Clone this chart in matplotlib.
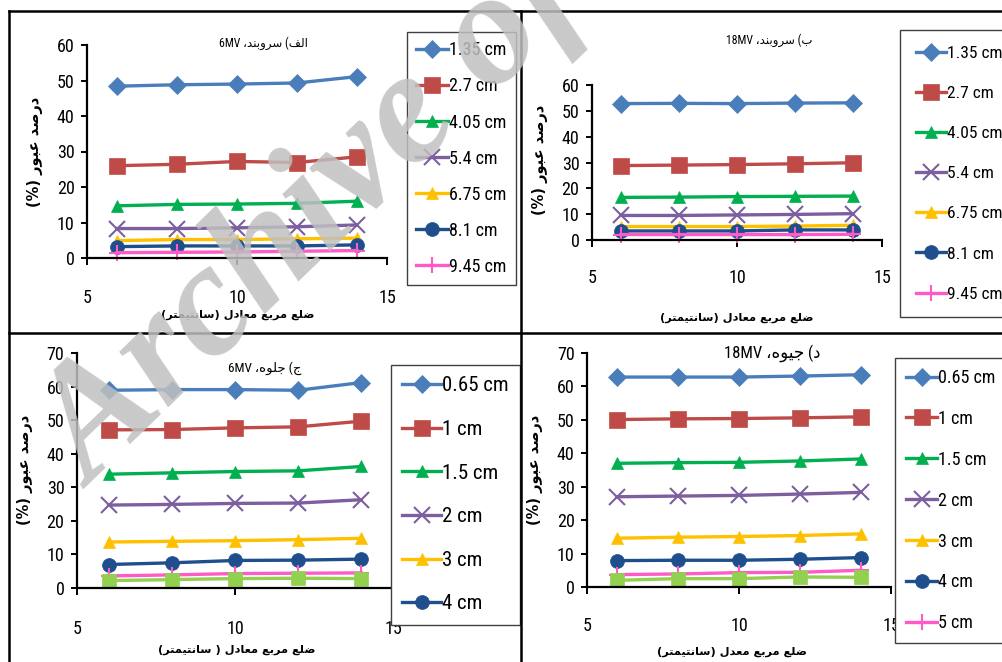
import matplotlib
matplotlib.use('Agg')
import matplotlib.pyplot as plt
from matplotlib.lines import Line2D

W, H = 1003, 662

# field size (equivalent square side, cm)
field = [6, 8, 10, 12, 14]

# panel a - 6MV
a_labels = ['1.35 cm', '2.7 cm', '4.05 cm', '5.4 cm', '6.75 cm', '8.1 cm', '9.45 cm']
a_135 = [48.4, 48.8, 49.0, 49.3, 51.1]
a_27 = [26.0, 26.4, 27.2, 26.9, 28.5]
a_405 = [14.7, 15.1, 15.2, 15.4, 16.0]
a_54 = [8.3, 8.3, 8.5, 8.8, 9.3]
a_675 = [4.9, 5.2, 5.2, 5.4, 5.6]
a_81 = [3.2, 3.4, 3.4, 3.4, 3.7]
a_945 = [1.5, 1.6, 1.7, 1.9, 2.1]

# panel b - 18MV
b_labels = a_labels
b_135 = [52.8, 52.9, 52.8, 53.0, 53.1]
b_27 = [28.8, 29.0, 29.2, 29.5, 29.9]
b_405 = [16.5, 16.6, 16.8, 16.9, 17.0]
b_54 = [9.5, 9.5, 9.7, 9.9, 10.2]
b_675 = [5.2, 5.2, 5.2, 5.4, 5.7]
b_81 = [3.5, 3.5, 3.5, 3.9, 3.9]
b_945 = [2.1, 2.1, 2.1, 2.1, 2.2]

# panel c - 6MV
c_labels = ['0.65 cm', '1 cm', '1.5 cm', '2 cm', '3 cm', '4 cm', '5 cm', '6 cm']
c_065 = [58.9, 59.1, 59.1, 58.9, 61.2]
c_1 = [47.1, 47.2, 47.7, 48.0, 49.7]
c_15 = [33.9, 34.3, 34.7, 34.9, 36.2]
c_2 = [24.7, 24.9, 25.2, 25.3, 26.3]
c_3 = [13.7, 13.9, 14.1, 14.4, 14.8]
c_4 = [7.0, 7.5, 8.2, 8.3, 8.6]
c_5 = [3.6, 3.9, 4.3, 4.4, 4.5]
c_6 = [2.2, 2.5, 2.8, 2.9, 2.8]

# panel d - 18MV
d_labels = c_labels
d_065 = [62.8, 62.8, 62.8, 63.1, 63.5]
d_1 = [50.1, 50.3, 50.4, 50.6, 50.9]
d_15 = [37.0, 37.2, 37.3, 37.7, 38.3]
d_2 = [27.0, 27.2, 27.4, 27.8, 28.3]
d_3 = [14.6, 14.9, 15.1, 15.4, 15.9]
d_4 = [7.9, 8.0, 8.0, 8.3, 8.8]
d_5 = [3.7, 3.9, 4.3, 4.4, 5.0]
d_6 = [2.0, 2.5, 2.5, 3.0, 2.9]

colors = ['#4A7EBB', '#BE4B48', '#00B050', '#7D5FA0', '#FFC000', '#1F4E8C', '#FF5BC8', '#92D050']
markers = ['D', 's', '^', 'x', '^', 'o', '+', 's']
msizes = [9, 11, 9, 11, 9, 10, 11, 10]

# arabic presentation forms: isolated, final, initial, medial
FORMS = {
    'ا': ('\ufe8d', '\ufe8e', None, None),
    'ب': ('\ufe8f', '\ufe90', '\ufe91', '\ufe92'),
    'ت': ('\ufe95', '\ufe96', '\ufe97', '\ufe98'),
    'ج': ('\ufe9d', '\ufe9e', '\ufe9f', '\ufea0'),
    'د': ('\ufea9', '\ufeaa', None, None),
    'ر': ('\ufead', '\ufeae', None, None),
    'س': ('\ufeb1', '\ufeb2', '\ufeb3', '\ufeb4'),
    'ص': ('\ufeb9', '\ufeba', '\ufebb', '\ufebc'),
    'ض': ('\ufebd', '\ufebe', '\ufebf', '\ufec0'),
    'ع': ('\ufec9', '\ufeca', '\ufecb', '\ufecc'),
    'ف': ('\ufed1', '\ufed2', '\ufed3', '\ufed4'),
    'ل': ('\ufedd', '\ufede', '\ufedf', '\ufee0'),
    'م': ('\ufee1', '\ufee2', '\ufee3', '\ufee4'),
    'ن': ('\ufee5', '\ufee6', '\ufee7', '\ufee8'),
    'ه': ('\ufee9', '\ufeea', '\ufeeb', '\ufeec'),
    'و': ('\ufeed', '\ufeee', None, None),
    'ی': ('\ufbfc', '\ufbfd', '\ufef3', '\ufef4'),
}


def shape(word):
    # join letters and reverse so it reads right to left
    out = []
    for i, ch in enumerate(word):
        f = FORMS[ch]
        before = i > 0 and FORMS[word[i - 1]][2] is not None
        after = i < len(word) - 1 and f[2] is not None
        if before and after:
            g = f[3]
        elif before:
            g = f[1]
        elif after:
            g = f[2]
        else:
            g = f[0]
        out.append(g)
    return ''.join(reversed(out))


ylab = '(%) ' + shape('عبور') + ' ' + shape('درصد')
xlab_a = '(' + shape('سانتیمتر') + ') ' + shape('معادل') + ' ' + shape('مربع') + ' ' + shape('ضلع')
xlab_c = '(' + shape('سانتیمتر') + ' ) ' + shape('معادل') + ' ' + shape('مربع') + ' ' + shape('ضلع')
xlab_d = '(' + shape('سانتیمتر') + ') ' + shape('معدل') + ' ' + shape('مربع') + ' ' + shape('ضلع')
title_a = '6MV ،' + shape('سروبند') + ' (' + shape('الف')
title_b = '18MV ،' + shape('سروبند') + ' (' + shape('ب')
title_c = '6MV ،' + shape('جلوه') + ' (' + shape('ج')
title_d = '18MV ،' + shape('جیوه') + ' (' + shape('د')

NUM = ['Roboto Condensed', 'Liberation Sans Narrow', 'Liberation Sans', 'DejaVu Sans']
MIX = ['Roboto Condensed', 'DejaVu Sans']
AR = ['DejaVu Sans']

fig = plt.figure(figsize=(W / 100, H / 100), dpi=100)
fig.patch.set_facecolor('white')


def px_axes(x0, x1, ytop, ybot):
    return fig.add_axes([x0 / W, 1 - ybot / H, (x1 - x0) / W, (ybot - ytop) / H])


def panel(box, ymax, series, labels, nleg, leg_xy, leg_style, title, tpos, tsize,
          xlab, xlpos, ylpos, xpad):
    ax = px_axes(*box)
    lines = []
    for i, vals in enumerate(series):
        ln, = ax.plot(field, vals, color=colors[i], lw=2.4, marker=markers[i],
                      ms=msizes[i], mew=1.5 if markers[i] in 'x+' else 0.5,
                      mec=colors[i], label=labels[i], clip_on=False)
        lines.append(ln)
    ax.set_xlim(5, 15)
    ax.set_ylim(0, ymax)
    ax.set_xticks([5, 10, 15])
    ax.set_yticks(range(0, ymax + 1, 10))
    for s in ['top', 'right']:
        ax.spines[s].set_visible(False)
    for s in ['left', 'bottom']:
        ax.spines[s].set_linewidth(1.6)
    ax.tick_params(axis='y', direction='out', length=4, width=1.4, pad=5, labelsize=13)
    ax.tick_params(axis='x', direction='out', length=5, width=1.4, pad=xpad, labelsize=13)
    for t in ax.get_xticklabels() + ax.get_yticklabels():
        t.set_family(NUM)
    ax.patch.set_alpha(0)
    fs, hl, ls, bp = leg_style
    leg = ax.legend(lines[:nleg], labels[:nleg], loc='upper left',
                    bbox_to_anchor=(leg_xy[0] / W, 1 - leg_xy[1] / H),
                    bbox_transform=fig.transFigure, borderaxespad=0,
                    prop={'family': NUM, 'size': fs}, handlelength=hl,
                    handletextpad=0.05, labelspacing=ls, borderpad=bp,
                    fancybox=False, framealpha=1, edgecolor='#404040')
    leg.get_frame().set_linewidth(1.0)
    fig.text(tpos[0] / W, 1 - tpos[1] / H, title, ha='center', va='center',
             fontsize=tsize, family=MIX)
    fig.text(xlpos[0] / W, 1 - xlpos[1] / H, xlab, ha='center', va='center',
             fontsize=8.2, fontweight='bold', family=AR)
    fig.text(ylpos[0] / W, 1 - ylpos[1] / H, ylab, ha='center', va='center',
             rotation=90, fontsize=10.5, fontweight='bold', family=AR)
    return ax


panel((87, 387, 45, 258), 60, [a_135, a_27, a_405, a_54, a_675, a_81, a_945], a_labels, 7,
      (407, 32), (13, 1.75, 1.0, 0.52), title_a, (263, 43), 8.5, xlab_a, (238, 315), (35, 152), 17)
panel((592, 882, 85, 240), 60, [b_135, b_27, b_405, b_54, b_675, b_81, b_945], b_labels, 7,
      (900, 30), (12.5, 1.75, 1.44, 0.9), title_b, (769, 40), 8.5, xlab_a, (737, 318), (540, 160), 16)
panel((77, 393, 353, 588), 70, [c_065, c_1, c_15, c_2, c_3, c_4, c_5, c_6], c_labels, 6,
      (391, 365), (15, 1.83, 1.18, 0.55), title_c, (265, 368), 9.5, xlab_c, (237, 650), (25, 470), 18)
panel((587, 891, 353, 587), 70, [d_065, d_1, d_15, d_2, d_3, d_4, d_5, d_6], d_labels, 7,
      (895, 358), (13, 1.75, 1.27, 0.6), title_d, (772, 353), 12, xlab_d, (732, 652), (535, 470), 16.5)

# panel frame lines
frame = dict(color='black', lw=1.8, transform=fig.transFigure)
fig.add_artist(Line2D([9 / W, 1], [1 - 11 / H, 1 - 11 / H], **frame))
fig.add_artist(Line2D([9 / W, 9 / W], [0, 1 - 11 / H], **frame))
fig.add_artist(Line2D([521 / W, 521 / W], [0, 1 - 11 / H], **frame))
fig.add_artist(Line2D([9 / W, 1], [1 - 333 / H, 1 - 333 / H], **frame))

# watermark
fig.text(92 / W, 1 - 490 / H, 'Archive of SID', rotation=44, rotation_mode='anchor',
         fontsize=116, color='#c0c0c0', alpha=0.85, fontweight='bold', style='italic',
         family=['Liberation Serif', 'DejaVu Serif'], ha='left', va='baseline', zorder=20)

fig.savefig('out.png', dpi=100)
